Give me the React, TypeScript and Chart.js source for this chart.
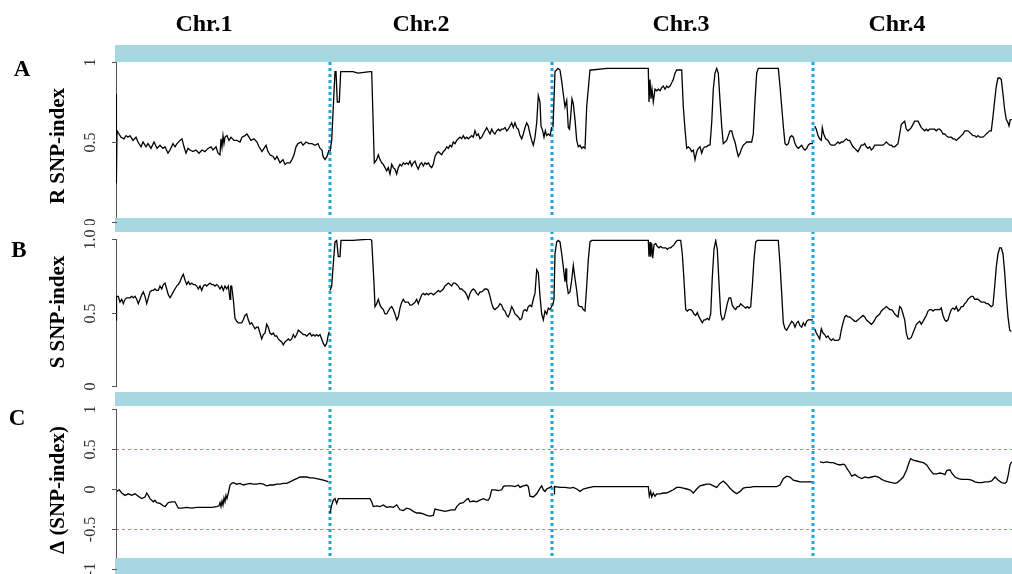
import React, { useEffect, useRef } from 'react';
import { Chart, registerables } from 'chart.js';

Chart.register(...registerables);

// ---------------- DATA ----------------
const CHR_NAMES = ['Chr.1', 'Chr.2', 'Chr.3', 'Chr.4'];
// chromosome lengths in sliding-window bins
const CHR_LENGTHS = [214, 222, 261, 199];

const R_TICKS = [0, 0.5, 1];
const R_TICK_LABELS = ['0', '0.5', '1'];
const S_TICKS = [0, 0.5, 1];
const S_TICK_LABELS = ['0', '0.5', '1.0'];
const D_TICKS = [-1, -0.5, 0, 0.5, 1];
const D_TICK_LABELS = ['-1', '-0.5', '0', '0.5', '1'];
const D_THRESHOLDS = [-0.5, 0.5];

// [position within chromosome (bins), SNP-index]
const R_CHR1 = [[0,0.80],[0.4,0.24],[1,0.57],[3,0.55],[5,0.53],[8,0.52],[10,0.54],[12,0.53],[14,0.54],[17,0.51],[20,0.53],[22,0.50],[25,0.47],[27,0.50],[30,0.47],[32,0.49],[35,0.46],[38,0.50],[41,0.46],[44,0.48],[47,0.46],[49,0.47],[52,0.43],[54,0.45],[57,0.49],[59,0.47],[61,0.49],[64,0.51],[66,0.52],[68,0.47],[70,0.43],[72,0.46],[74,0.45],[77,0.44],[80,0.45],[83,0.43],[86,0.45],[89,0.44],[92,0.46],[95,0.47],[97,0.45],[100,0.47],[102,0.43],[104,0.42],[105,0.52],[106,0.47],[107,0.54],[108,0.49],[109,0.53],[111,0.54],[113,0.51],[115,0.53],[118,0.51],[121,0.51],[124,0.50],[126,0.53],[129,0.54],[131,0.55],[133,0.53],[135,0.51],[138,0.52],[141,0.50],[143,0.47],[146,0.44],[148,0.46],[150,0.48],[152,0.44],[154,0.42],[157,0.41],[159,0.39],[161,0.41],[164,0.37],[167,0.39],[169,0.36],[171,0.37],[174,0.37],[176,0.39],[178,0.42],[180,0.47],[182,0.49],[185,0.50],[187,0.48],[190,0.50],[193,0.49],[196,0.49],[199,0.48],[202,0.49],[204,0.46],[206,0.45],[207,0.41],[209,0.39],[211,0.41],[212,0.43],[213,0.45]];
const R_CHR2 = [[0,0.44],[1.7,0.51],[3.3,0.72],[5,0.94],[6,0.94],[7.3,0.75],[9.3,0.75],[10.7,0.94],[23,0.94],[28,0.93],[40,0.94],[41.7,0.94],[44.3,0.37],[46.7,0.39],[48.3,0.42],[50,0.39],[51.7,0.37],[53.3,0.36],[55,0.34],[56.7,0.32],[58.3,0.34],[60,0.30],[61.7,0.36],[63.3,0.34],[65,0.33],[66.7,0.30],[68.3,0.34],[70,0.36],[71.7,0.35],[73.3,0.37],[75,0.36],[76.7,0.37],[78.3,0.36],[80,0.38],[81.7,0.35],[83.3,0.37],[85,0.38],[86.7,0.35],[88.3,0.33],[90,0.36],[91.7,0.37],[93.3,0.35],[95,0.37],[96.7,0.36],[98.3,0.37],[100,0.35],[101.7,0.34],[103.3,0.36],[105,0.41],[106.7,0.43],[108.3,0.44],[110,0.43],[111.7,0.42],[113.3,0.44],[115,0.45],[116.7,0.47],[118.3,0.46],[120,0.48],[121.7,0.47],[123.3,0.50],[125,0.49],[126.7,0.51],[128.3,0.52],[130,0.53],[131.7,0.52],[133.3,0.54],[135,0.52],[136.7,0.53],[138.3,0.52],[140,0.53],[141.7,0.54],[143.3,0.53],[145,0.57],[146.7,0.54],[148.3,0.55],[150,0.52],[151.7,0.53],[153.3,0.55],[155,0.57],[156.7,0.59],[158.3,0.57],[160,0.55],[161.7,0.58],[163.3,0.56],[165,0.55],[166.7,0.57],[168.3,0.58],[170,0.57],[171.7,0.58],[173.3,0.58],[175,0.59],[176.7,0.57],[178.3,0.58],[180,0.60],[181.7,0.62],[183.3,0.59],[185,0.62],[186.7,0.59],[188.3,0.58],[190,0.54],[191.7,0.52],[193.3,0.55],[195,0.59],[196.7,0.62],[198.3,0.60],[200,0.55],[201.7,0.51],[203.3,0.48],[205,0.53],[206.7,0.62],[208.3,0.79],[210,0.75],[211,0.60],[212.7,0.57],[214,0.53],[215.3,0.57],[216.7,0.54],[218.3,0.55],[220,0.54],[221.7,0.59],[222,0.59]];
const R_CHR3 = [[1,0.59],[3,0.94],[6,0.96],[8,0.95],[9.7,0.88],[11.3,0.80],[13,0.72],[14.7,0.76],[16.3,0.59],[17.5,0.58],[18.7,0.66],[20,0.77],[21.3,0.74],[23,0.64],[24.7,0.51],[26.3,0.47],[28,0.48],[29.7,0.46],[31.3,0.47],[33,0.46],[34.7,0.72],[38,0.95],[39.7,0.95],[55,0.96],[71,0.96],[88,0.96],[96.3,0.96],[97,0.75],[98,0.89],[99,0.77],[100,0.83],[101.3,0.75],[103,0.83],[104.7,0.82],[106.3,0.83],[108,0.82],[109.7,0.84],[111.3,0.85],[113,0.83],[114.7,0.85],[116.3,0.84],[118,0.85],[119.7,0.87],[121.3,0.89],[123,0.93],[124.7,0.95],[128,0.95],[129.7,0.95],[131.3,0.72],[133,0.58],[134.7,0.46],[136.3,0.47],[138,0.46],[139.7,0.44],[141.3,0.45],[143,0.39],[144.7,0.44],[146.3,0.46],[148,0.47],[149.7,0.43],[151.3,0.46],[153,0.47],[154.7,0.47],[156.3,0.48],[158,0.48],[159.7,0.62],[161.3,0.83],[163,0.93],[164.7,0.96],[166.3,0.93],[168,0.76],[169.7,0.60],[171.3,0.49],[173,0.50],[174.7,0.51],[176.3,0.54],[178,0.57],[179.7,0.57],[181.3,0.53],[183,0.50],[184.7,0.45],[186.3,0.41],[188,0.43],[189.7,0.46],[191.3,0.48],[193,0.49],[194.7,0.50],[196.3,0.50],[198,0.50],[199.7,0.50],[201.3,0.55],[203,0.76],[204.7,0.93],[206.3,0.96],[221,0.96],[226.3,0.96],[228,0.85],[229.7,0.72],[231.3,0.60],[233,0.49],[234.7,0.48],[236.3,0.49],[238,0.53],[239.7,0.54],[241.3,0.53],[243,0.49],[244.7,0.47],[246.3,0.46],[248,0.47],[249.7,0.48],[251.3,0.46],[253,0.45],[254.7,0.46],[256.3,0.48],[258,0.49],[259.7,0.49],[261,0.49]];
const R_CHR4 = [[1.7,0.60],[3.3,0.58],[5,0.54],[6.7,0.52],[8.3,0.51],[9.3,0.59],[10.7,0.55],[12.7,0.52],[15,0.51],[16.7,0.49],[18.3,0.48],[20,0.48],[21.7,0.48],[23.3,0.49],[25,0.50],[26.7,0.49],[28.3,0.50],[30,0.50],[31.7,0.51],[33.3,0.52],[35,0.51],[36.7,0.51],[38.3,0.49],[40,0.47],[41.7,0.46],[43.3,0.45],[45,0.44],[46.7,0.46],[48.3,0.48],[50,0.48],[51.7,0.49],[53.3,0.47],[55,0.46],[56.7,0.47],[58.3,0.45],[60,0.46],[61.7,0.48],[63.3,0.48],[65,0.48],[66.7,0.48],[68.3,0.48],[70,0.48],[71.7,0.49],[73.3,0.50],[75,0.49],[76.7,0.48],[78.3,0.48],[80,0.47],[81.7,0.47],[83.3,0.48],[85,0.49],[86.7,0.55],[88.3,0.61],[90,0.62],[91.7,0.63],[93.3,0.58],[95,0.57],[96.7,0.58],[98.3,0.59],[100,0.61],[101.7,0.63],[103.3,0.63],[105,0.63],[106.7,0.61],[108.3,0.59],[110,0.58],[111.7,0.57],[113.3,0.58],[115,0.57],[116.7,0.58],[118.3,0.58],[120,0.58],[121.7,0.58],[123.3,0.57],[125,0.58],[126.7,0.58],[128.3,0.57],[130,0.55],[131.7,0.55],[133.3,0.54],[135,0.53],[136.7,0.53],[138.3,0.53],[140,0.52],[141.7,0.52],[143.3,0.51],[145,0.52],[146.7,0.53],[148.3,0.54],[150,0.55],[151.7,0.57],[153.3,0.57],[155,0.57],[156.7,0.56],[158.3,0.55],[160,0.54],[161.7,0.54],[163.3,0.53],[165,0.54],[166.7,0.53],[168.3,0.53],[170,0.53],[171.7,0.54],[173.3,0.55],[175,0.56],[176.7,0.57],[178.3,0.57],[180,0.66],[181.7,0.76],[183.3,0.85],[185,0.90],[186.7,0.90],[188.3,0.89],[190,0.80],[191.7,0.70],[193.3,0.64],[195,0.62],[196,0.60],[197.3,0.64],[198.7,0.64]];

const S_CHR1 = [[0,0.45],[0.5,0.61],[2.3,0.61],[4,0.57],[5.7,0.59],[7.3,0.56],[9,0.59],[10.7,0.60],[12.3,0.60],[14,0.60],[15.7,0.61],[17.3,0.60],[19,0.61],[20.7,0.59],[22.3,0.56],[24,0.59],[25.7,0.62],[27.3,0.64],[29,0.61],[30.7,0.56],[32.3,0.60],[34,0.64],[35.7,0.65],[37.3,0.65],[39,0.66],[40.7,0.65],[42.3,0.65],[44,0.68],[45.7,0.66],[47.3,0.69],[49,0.70],[50.7,0.66],[52.3,0.62],[54,0.60],[55.7,0.62],[57.3,0.64],[59,0.66],[60.7,0.68],[62.3,0.69],[64,0.71],[65.7,0.74],[67.3,0.76],[69,0.72],[70.7,0.69],[72.3,0.71],[74,0.69],[75.7,0.70],[77.3,0.69],[79,0.69],[80.7,0.68],[82.3,0.66],[84,0.68],[85.7,0.65],[87.3,0.68],[89,0.69],[90.7,0.68],[92.3,0.69],[94,0.70],[95.7,0.69],[97.3,0.69],[99,0.68],[100.7,0.69],[102.3,0.68],[104,0.66],[105.7,0.68],[107.3,0.65],[109,0.68],[110.7,0.66],[112.3,0.68],[114,0.59],[114.7,0.68],[115.7,0.68],[117.3,0.59],[119,0.46],[120.7,0.44],[122.3,0.43],[124,0.43],[125.7,0.43],[127.3,0.45],[129,0.48],[130.7,0.49],[132.3,0.45],[134,0.42],[135.7,0.43],[137.3,0.41],[139,0.39],[140.7,0.40],[142.3,0.40],[144,0.36],[145.7,0.32],[147.3,0.35],[149,0.36],[150.7,0.42],[152.3,0.40],[154,0.36],[155.7,0.35],[157.3,0.36],[159,0.34],[160.7,0.34],[162.3,0.32],[164,0.31],[165.7,0.30],[167.3,0.28],[169,0.30],[170.7,0.31],[172.3,0.32],[174,0.31],[175.7,0.32],[177.3,0.35],[179,0.33],[180.7,0.35],[182.3,0.38],[184,0.37],[185.7,0.36],[187.3,0.35],[189,0.35],[190.7,0.34],[192.3,0.35],[194,0.36],[195.7,0.34],[197.3,0.35],[199,0.34],[200.7,0.35],[202.3,0.34],[204,0.35],[205.7,0.32],[207.3,0.29],[209,0.27],[210.7,0.29],[212.3,0.35],[213.3,0.37]];
const S_CHR2 = [[0,0.65],[1.7,0.68],[3.3,0.83],[5,0.98],[6.7,0.99],[8.3,0.88],[10,0.88],[11,0.99],[23,0.99],[40,1.0],[41.7,0.99],[44,0.70],[45,0.54],[46.7,0.56],[48.3,0.59],[50,0.55],[51.7,0.53],[53.3,0.52],[55,0.49],[56.7,0.49],[58.3,0.51],[60,0.53],[61.7,0.54],[63.3,0.52],[65,0.49],[66.7,0.45],[68.3,0.47],[70,0.53],[71.7,0.57],[73.3,0.59],[75,0.57],[76.7,0.57],[78.3,0.57],[80,0.55],[81.7,0.55],[83.3,0.56],[85,0.57],[86.7,0.59],[88.3,0.56],[90,0.59],[91.7,0.62],[93.3,0.63],[95,0.62],[96.7,0.63],[98.3,0.62],[100,0.63],[101.7,0.63],[103.3,0.62],[105,0.63],[106.7,0.64],[108.3,0.65],[110,0.64],[111.7,0.65],[113.3,0.66],[115,0.68],[116.7,0.69],[118.3,0.70],[120,0.69],[121.7,0.68],[123.3,0.70],[125,0.70],[126.7,0.69],[128.3,0.68],[130,0.66],[131.7,0.66],[133.3,0.65],[135,0.64],[136.7,0.62],[138.3,0.59],[140,0.63],[141.7,0.65],[143.3,0.66],[145,0.65],[146.7,0.63],[148.3,0.62],[150,0.64],[151.7,0.64],[153.3,0.65],[155,0.66],[156.7,0.66],[158.3,0.65],[160,0.61],[161.7,0.56],[163.3,0.53],[165,0.52],[166.7,0.53],[168.3,0.54],[170,0.56],[171.7,0.55],[173.3,0.52],[175,0.51],[176.7,0.48],[178.3,0.47],[180,0.50],[181.7,0.54],[183.3,0.52],[185,0.49],[186.7,0.48],[188.3,0.47],[190,0.45],[191.7,0.46],[193.3,0.51],[195,0.52],[196.7,0.51],[198.3,0.54],[200,0.55],[201.7,0.54],[203.3,0.59],[205,0.63],[206.7,0.79],[208.3,0.77],[210,0.61],[211.7,0.49],[213.3,0.45],[215,0.51],[216.7,0.49],[218.3,0.53],[220,0.52],[221.7,0.54],[222,0.55]];
const S_CHR3 = [[0.7,0.55],[2,0.59],[3,0.90],[4.7,0.98],[6.3,0.99],[8,0.98],[9.7,0.90],[11.3,0.81],[13,0.71],[14,0.80],[14.7,0.70],[16.3,0.63],[18,0.64],[19.7,0.72],[21.3,0.82],[23,0.73],[24.7,0.65],[26.3,0.55],[28,0.54],[29.7,0.54],[31.3,0.52],[33,0.51],[34.7,0.68],[36.3,0.86],[38,0.98],[39.7,0.99],[71,0.99],[96.3,0.99],[97,0.88],[98,0.98],[98.7,0.88],[99.7,0.97],[100.7,0.87],[102,0.96],[103.7,0.97],[105.3,0.95],[107,0.94],[108.7,0.95],[110.3,0.94],[112,0.94],[113.7,0.94],[115.3,0.93],[117,0.94],[118.7,0.94],[120.3,0.95],[122,0.96],[123.7,0.98],[125.3,0.99],[128.7,0.99],[130.3,0.90],[132,0.72],[133.7,0.52],[135.3,0.51],[137,0.52],[138.7,0.52],[140.3,0.51],[142,0.49],[143.7,0.48],[145.3,0.50],[147,0.47],[148.7,0.45],[150.3,0.43],[152,0.45],[153.7,0.45],[155.3,0.46],[157,0.45],[158.7,0.49],[160.3,0.74],[162,0.93],[163.7,0.99],[165.3,0.93],[167,0.70],[168.7,0.49],[170.3,0.45],[172,0.46],[173.7,0.51],[175.3,0.56],[177,0.60],[178.7,0.60],[180.3,0.55],[182,0.53],[183.7,0.52],[185.3,0.54],[187,0.54],[188.7,0.56],[190.3,0.55],[192,0.54],[193.7,0.53],[195.3,0.54],[197,0.53],[198.7,0.54],[200.3,0.68],[202,0.86],[203.7,0.98],[205.3,0.99],[226.3,0.99],[228,0.83],[229.7,0.63],[231.3,0.43],[233,0.39],[234.7,0.38],[236.3,0.40],[238,0.42],[239.7,0.44],[241.3,0.43],[243,0.40],[244.7,0.43],[246.3,0.44],[248,0.41],[249.7,0.40],[251.3,0.43],[253,0.41],[254.7,0.44],[256.3,0.45],[258,0.45],[259.7,0.45],[261,0.45]];
const S_CHR4 = [[1.7,0.39],[3.3,0.36],[5,0.34],[6.7,0.32],[8.3,0.39],[10,0.36],[11.7,0.35],[13.3,0.33],[15,0.34],[16.7,0.32],[18.3,0.31],[20,0.32],[21.7,0.31],[23.3,0.31],[25,0.31],[26.7,0.32],[28.3,0.38],[30,0.43],[31.7,0.47],[33.3,0.48],[35,0.47],[36.7,0.47],[38.3,0.46],[40,0.45],[41.7,0.44],[43.3,0.44],[45,0.45],[46.7,0.46],[48.3,0.47],[50,0.48],[51.7,0.47],[53.3,0.45],[55,0.44],[56.7,0.43],[58.3,0.42],[60,0.43],[61.7,0.45],[63.3,0.47],[65,0.48],[66.7,0.49],[68.3,0.51],[70,0.52],[71.7,0.53],[73.3,0.54],[75,0.53],[76.7,0.52],[78.3,0.52],[80,0.51],[81.7,0.49],[83.3,0.48],[85,0.47],[86.7,0.54],[88.3,0.53],[90,0.49],[91.7,0.45],[93.3,0.36],[95,0.32],[96.7,0.32],[98.3,0.33],[100,0.36],[101.7,0.39],[103.3,0.42],[105,0.43],[106.7,0.44],[108.3,0.42],[110,0.44],[111.7,0.46],[113.3,0.48],[115,0.51],[116.7,0.52],[118.3,0.52],[120,0.51],[121.7,0.52],[123.3,0.52],[125,0.52],[126.7,0.52],[128.3,0.53],[130,0.48],[131.7,0.45],[133.3,0.44],[135,0.45],[136.7,0.49],[138.3,0.52],[140,0.53],[141.7,0.52],[143.3,0.54],[145,0.51],[146.7,0.52],[148.3,0.54],[150,0.54],[151.7,0.56],[153.3,0.57],[155,0.59],[156.7,0.60],[158.3,0.61],[160,0.61],[161.7,0.59],[163.3,0.59],[165,0.59],[166.7,0.58],[168.3,0.57],[170,0.57],[171.7,0.57],[173.3,0.56],[175,0.56],[176.7,0.55],[178.3,0.54],[180,0.55],[181.7,0.68],[183.3,0.81],[185,0.90],[186.7,0.94],[188.3,0.94],[190,0.90],[191.7,0.77],[193.3,0.61],[195,0.47],[196.7,0.38],[198.3,0.37]];

const D_CHR1 = [[0.7,-0.03],[3.3,-0.01],[5.7,-0.05],[9,-0.08],[12.3,-0.06],[15.7,-0.08],[19,-0.06],[22.3,-0.09],[25.7,-0.12],[29,-0.10],[30.7,-0.05],[32.3,-0.08],[34,-0.12],[37.3,-0.16],[39,-0.14],[40.7,-0.17],[44,-0.18],[47.3,-0.21],[49,-0.22],[52.3,-0.17],[55.7,-0.16],[59,-0.16],[60.7,-0.20],[62.3,-0.24],[65.7,-0.24],[70.7,-0.23],[75.7,-0.24],[80.7,-0.23],[85.7,-0.23],[90.7,-0.23],[95.7,-0.23],[100.7,-0.22],[103,-0.21],[104,-0.17],[105,-0.22],[106,-0.15],[107,-0.20],[108,-0.11],[109,-0.16],[110,-0.08],[111,-0.12],[112.3,-0.05],[114,0.05],[115.7,0.07],[117.3,0.08],[120.7,0.06],[124,0.07],[127.3,0.05],[130.7,0.06],[134,0.07],[137.3,0.06],[140.7,0.06],[144,0.07],[147.3,0.06],[150.7,0.04],[154,0.05],[157.3,0.05],[160.7,0.06],[164,0.06],[167.3,0.07],[170.7,0.07],[174,0.09],[177.3,0.11],[180.7,0.13],[184,0.15],[187.3,0.15],[190.7,0.15],[194,0.14],[197.3,0.14],[200.7,0.13],[204,0.12],[207.3,0.11],[210.7,0.10],[212.3,0.09]];
const D_CHR2 = [[0,-0.30],[1.7,-0.20],[3.3,-0.14],[5,-0.12],[6.7,-0.18],[8.3,-0.12],[23,-0.12],[40,-0.12],[41.7,-0.16],[43.3,-0.22],[46.7,-0.21],[50,-0.22],[53.3,-0.20],[56.7,-0.23],[60,-0.22],[63.3,-0.23],[66.7,-0.20],[70,-0.26],[73.3,-0.27],[76.7,-0.24],[80,-0.25],[83.3,-0.28],[86.7,-0.30],[90,-0.30],[93.3,-0.31],[96.7,-0.33],[100,-0.34],[103.3,-0.33],[105,-0.25],[108.3,-0.26],[111.7,-0.27],[115,-0.28],[118.3,-0.27],[121.7,-0.26],[125,-0.26],[126.7,-0.22],[130,-0.18],[133.3,-0.17],[136.7,-0.13],[138.3,-0.12],[140,-0.16],[143.3,-0.15],[146.7,-0.16],[150,-0.14],[153.3,-0.12],[156.7,-0.14],[158.3,-0.14],[160,-0.10],[161.7,-0.01],[165,-0.01],[168.3,-0.02],[171.7,-0.01],[173.3,0.03],[175,0.04],[178.3,0.04],[181.7,0.04],[185,0.03],[188.3,0.05],[190,0.02],[193.3,0.04],[196.7,0.05],[198.3,0.03],[200,-0.09],[203.3,-0.10],[206.7,-0.06],[210,0.01],[211.7,0.04],[213.3,-0.01],[215,-0.03],[216.7,0.00],[220,0.02],[222,0.04]];
const D_CHR3 = [[2,-0.06],[2.5,0.03],[8,0.02],[13,0.02],[18,0.01],[21.3,0.02],[24.7,0.00],[28,-0.03],[31.3,0.00],[34.7,0.01],[38,0.02],[41.3,0.03],[51.3,0.03],[68,0.03],[84.7,0.03],[96.3,0.03],[97.3,-0.09],[98.7,-0.03],[99.7,-0.10],[101.3,-0.05],[103,-0.09],[104.7,-0.06],[108,-0.06],[111.3,-0.05],[114.7,-0.05],[118,-0.03],[121.3,-0.01],[124.7,0.02],[128,0.02],[131.3,0.01],[134.7,0.00],[138,-0.01],[141.3,-0.05],[144.7,0.00],[148,0.04],[151.3,0.05],[154.7,0.06],[158,0.06],[161.3,0.04],[164.7,0.02],[168,0.07],[171.3,0.10],[174.7,0.06],[178,0.01],[181.3,-0.03],[184.7,-0.06],[188,-0.03],[191.3,0.01],[194.7,0.02],[198,0.02],[201.3,0.03],[208,0.03],[214.7,0.03],[221.3,0.03],[224.7,0.03],[228,0.05],[231.3,0.13],[234.7,0.16],[238,0.15],[241.3,0.11],[244.7,0.10],[248,0.09],[251.3,0.09],[254.7,0.09],[259.7,0.09]];
const D_CHR4 = [[7,0.34],[10.3,0.33],[13.7,0.34],[17,0.33],[20.3,0.33],[23.7,0.31],[27,0.30],[30.3,0.31],[32,0.30],[33.7,0.26],[37,0.20],[38.7,0.16],[42,0.18],[45.3,0.15],[48.7,0.13],[52,0.15],[55.3,0.14],[58.7,0.15],[62,0.16],[65.3,0.15],[68.7,0.12],[72,0.10],[75.3,0.09],[78.7,0.08],[82,0.07],[84.3,0.08],[87,0.11],[90.3,0.15],[93.7,0.24],[96.3,0.34],[97.7,0.38],[100.3,0.36],[103.7,0.35],[107,0.34],[110.3,0.33],[113.7,0.30],[117,0.24],[120.3,0.19],[123.7,0.19],[127,0.20],[130.3,0.19],[132,0.18],[133.7,0.23],[137,0.24],[138.7,0.20],[142,0.15],[145.3,0.13],[148.7,0.12],[152,0.12],[155.3,0.12],[158.7,0.11],[162,0.09],[165.3,0.08],[168.7,0.08],[172,0.09],[175.3,0.09],[178.7,0.10],[182,0.15],[185.3,0.11],[188.7,0.08],[192,0.07],[193.7,0.09],[195.3,0.18],[197,0.30],[198.7,0.34]];

// ---------------- LAYOUT / STYLE ----------------
const W = 1012;
const PLOT_LEFT = 116;
const BAND_LEFT = 115;
const BAND_COLOR = '#a7d8e1';
const VLINE_COLOR = '#1ba7de';
const THRESH_COLOR = '#e0484b';
const SERIF = '"Liberation Serif", "Times New Roman", serif';
const CHR_TITLE_X = [204, 421, 681, 897];

type PanelCfg = {
  top: number; height: number; plotTop: number; plotBottom: number;
  yMin: number; yMax: number; ticks: number[]; tickLabels: string[];
  title: string; letter: string; letterPos: [number, number]; titleY: number;
  bands: [number, number][]; series: number[][][]; thresholds?: number[];
  vlineStart: number; chrTitles?: boolean;
};

const PANELS: PanelCfg[] = [
  { top: 0, height: 225, plotTop: 62, plotBottom: 222, yMin: 0, yMax: 1,
    ticks: R_TICKS, tickLabels: R_TICK_LABELS, title: 'R SNP-index', letter: 'A',
    letterPos: [22, 70], titleY: 146, bands: [[45, 62], [218, 232]],
    series: [R_CHR1, R_CHR2, R_CHR3, R_CHR4], vlineStart: 62, chrTitles: true },
  { top: 225, height: 172, plotTop: 239, plotBottom: 386, yMin: 0, yMax: 1,
    ticks: S_TICKS, tickLabels: S_TICK_LABELS, title: 'S SNP-index', letter: 'B',
    letterPos: [19, 251], titleY: 312, bands: [[218, 232], [392, 406]],
    series: [S_CHR1, S_CHR2, S_CHR3, S_CHR4], vlineStart: 225 },
  { top: 397, height: 177, plotTop: 409, plotBottom: 569, yMin: -1, yMax: 1,
    ticks: D_TICKS, tickLabels: D_TICK_LABELS, title: '\u0394 (SNP-index)', letter: 'C',
    letterPos: [17, 419], titleY: 490, bands: [[392, 406], [558, 574]],
    series: [D_CHR1, D_CHR2, D_CHR3, D_CHR4], thresholds: D_THRESHOLDS, vlineStart: 397 },
];

const offsets = CHR_LENGTHS.map((_, i) => CHR_LENGTHS.slice(0, i).reduce((a, b) => a + b, 0));
const TOTAL = CHR_LENGTHS.reduce((a, b) => a + b, 0);

function decorPlugin(cfg: PanelCfg) {
  const T = cfg.top;
  return {
    id: 'decor',
    beforeDatasetsDraw(chart: any) {
      const ctx = chart.ctx;
      const xs = chart.scales.x;
      const ys = chart.scales.y;
      const area = chart.chartArea;
      ctx.save();
      // axis line
      ctx.strokeStyle = '#555';
      ctx.lineWidth = 1;
      ctx.setLineDash([]);
      ctx.beginPath();
      ctx.moveTo(PLOT_LEFT + 0.5, ys.getPixelForValue(cfg.yMax));
      ctx.lineTo(PLOT_LEFT + 0.5, ys.getPixelForValue(cfg.yMin));
      ctx.stroke();
      // threshold lines
      (cfg.thresholds || []).forEach((t) => {
        const py = Math.round(ys.getPixelForValue(t)) + 0.5;
        ctx.strokeStyle = THRESH_COLOR;
        ctx.globalAlpha = 0.8;
        ctx.lineWidth = 1;
        ctx.setLineDash([3, 3]);
        ctx.beginPath();
        ctx.moveTo(area.left, py);
        ctx.lineTo(area.right, py);
        ctx.stroke();
        ctx.globalAlpha = 1;
      });
      // chromosome boundaries
      ctx.strokeStyle = VLINE_COLOR;
      ctx.lineWidth = 3;
      ctx.setLineDash([3, 3]);
      offsets.slice(1).forEach((o) => {
        const px = xs.getPixelForValue(o);
        ctx.beginPath();
        ctx.moveTo(px, cfg.vlineStart - T);
        ctx.lineTo(px, cfg.height);
        ctx.stroke();
      });
      ctx.restore();
    },
    afterDatasetsDraw(chart: any) {
      const ctx = chart.ctx;
      const ys = chart.scales.y;
      ctx.save();
      ctx.setLineDash([]);
      // bands
      ctx.fillStyle = BAND_COLOR;
      cfg.bands.forEach(([a, b]) => {
        ctx.fillRect(BAND_LEFT, a - T, W - BAND_LEFT, b - a);
      });
      // ticks + labels
      ctx.strokeStyle = '#555';
      ctx.lineWidth = 1;
      ctx.fillStyle = '#333';
      ctx.font = `16px ${SERIF}`;
      ctx.textAlign = 'center';
      ctx.textBaseline = 'middle';
      cfg.ticks.forEach((t, i) => {
        const py = Math.round(ys.getPixelForValue(t)) + 0.5;
        ctx.beginPath();
        ctx.moveTo(PLOT_LEFT - 4, py);
        ctx.lineTo(PLOT_LEFT + 1, py);
        ctx.stroke();
        ctx.save();
        ctx.translate(91, py);
        ctx.rotate(-Math.PI / 2);
        ctx.fillText(cfg.tickLabels[i], 0, 0);
        ctx.restore();
      });
      // axis title
      ctx.fillStyle = '#000';
      ctx.font = `bold 21px ${SERIF}`;
      ctx.save();
      ctx.translate(59, cfg.titleY - T);
      ctx.rotate(-Math.PI / 2);
      ctx.fillText(cfg.title, 0, 0);
      ctx.restore();
      // panel letter
      ctx.font = `bold 23px ${SERIF}`;
      ctx.fillText(cfg.letter, cfg.letterPos[0], cfg.letterPos[1] - T);
      // chromosome titles
      if (cfg.chrTitles) {
        ctx.font = `bold 24px ${SERIF}`;
        CHR_NAMES.forEach((n, i) => ctx.fillText(n, CHR_TITLE_X[i], 25 - T));
      }
      ctx.restore();
    },
  };
}

function Panel({ cfg }: { cfg: PanelCfg }) {
  const ref = useRef<HTMLCanvasElement>(null);
  useEffect(() => {
    const canvas = ref.current;
    if (!canvas) return;
    const datasets = cfg.series.map((arr, ci) => ({
      label: CHR_NAMES[ci],
      data: arr.map(([p, v]) => ({ x: offsets[ci] + p, y: v })),
      borderColor: '#000',
      borderWidth: 1.3,
      pointRadius: 0,
      fill: false,
      tension: 0,
    }));
    const chart = new Chart(canvas, {
      type: 'line',
      data: { datasets },
      options: {
        animation: false,
        responsive: false,
        devicePixelRatio: 1,
        events: [],
        parsing: false as any,
        layout: {
          padding: {
            left: PLOT_LEFT,
            right: 0,
            top: cfg.plotTop - cfg.top,
            bottom: cfg.top + cfg.height - cfg.plotBottom,
          },
        },
        plugins: { legend: { display: false }, tooltip: { enabled: false } },
        scales: {
          x: { type: 'linear', display: false, min: 0, max: TOTAL },
          y: { type: 'linear', display: false, min: cfg.yMin, max: cfg.yMax },
        },
      },
      plugins: [decorPlugin(cfg)],
    } as any);
    return () => chart.destroy();
  }, [cfg]);
  return (
    <canvas
      ref={ref}
      width={W}
      height={cfg.height}
      style={{ position: 'absolute', left: 0, top: cfg.top, width: W, height: cfg.height, display: 'block' }}
    />
  );
}

export default function App() {
  return (
    <div style={{ position: 'absolute', left: 0, top: 0, width: W, height: 574, background: '#fff', overflow: 'hidden' }}>
      {PANELS.map((p, i) => (
        <Panel key={i} cfg={p} />
      ))}
    </div>
  );
}
